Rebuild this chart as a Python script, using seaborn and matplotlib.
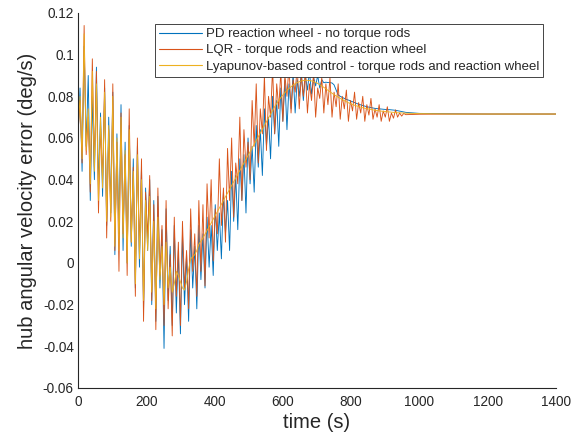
import numpy as np
import pandas as pd
import matplotlib
matplotlib.use("Agg")
import matplotlib.pyplot as plt
import seaborn as sns

# ---------------- data ----------------
# sample grid (s): every 6 s up to 960 s, then the settled tail
time_main = np.arange(0, 966, 6)
time_tail = [1000, 1100, 1200, 1300, 1400]

pd_wheel = [
    0.060, 0.084, 0.044, 0.104, 0.056, 0.090, 0.030, 0.080, 0.040, 0.094,
    0.036, 0.072, 0.032, 0.084, 0.018, 0.070, 0.024, 0.082, 0.004, 0.062,
    0.014, 0.076, 0.006, 0.058, 0.000, 0.066, 0.008, 0.050, -0.012, 0.056,
    -0.002, 0.046, -0.022, 0.036, 0.006, 0.040, -0.020, 0.030, -0.028, 0.032,
    -0.012, 0.016, -0.041, 0.026, -0.018, 0.008, -0.030, 0.018, -0.024, 0.006,
    -0.034, 0.014, -0.020, 0.004, -0.028, 0.016, -0.012, 0.008, -0.022, 0.018,
    -0.008, 0.014, -0.012, 0.022, -0.002, 0.018, -0.006, 0.028, 0.006, 0.024,
    0.002, 0.034, 0.014, 0.030, 0.006, 0.044, 0.020, 0.042, 0.016, 0.050,
    0.030, 0.052, 0.024, 0.060, 0.038, 0.056, 0.034, 0.066, 0.046, 0.064,
    0.042, 0.074, 0.056, 0.070, 0.050, 0.080, 0.062, 0.078, 0.056, 0.084,
    0.068, 0.088, 0.064, 0.086, 0.074, 0.091, 0.072, 0.088, 0.080, 0.092,
    0.078, 0.090, 0.083, 0.092, 0.081, 0.089, 0.085, 0.090, 0.084, 0.088,
    0.0865, 0.0868, 0.0866, 0.0866, 0.0864, 0.0855, 0.0830, 0.0807, 0.0800, 0.0795,
    0.0790, 0.0785, 0.0782, 0.0778, 0.0774, 0.0770, 0.0766, 0.0762, 0.0759, 0.0756,
    0.0753, 0.0750, 0.0748, 0.0746, 0.0744, 0.0742, 0.0741, 0.0740, 0.0739, 0.0738,
    0.0737, 0.0736, 0.0736, 0.0735, 0.0734, 0.0733, 0.0731, 0.0729, 0.0727, 0.0725,
    0.0723,
    0.0718, 0.0716, 0.0715, 0.0715, 0.0715,
]

lqr = [
    0.062, 0.078, 0.048, 0.114, 0.052, 0.070, 0.034, 0.098, 0.046, 0.092,
    0.024, 0.066, 0.040, 0.088, 0.012, 0.064, 0.020, 0.086, 0.006, 0.058,
    -0.004, 0.072, 0.014, 0.052, -0.006, 0.074, 0.010, 0.046, -0.016, 0.060,
    0.004, 0.050, -0.028, 0.034, 0.012, 0.042, -0.018, 0.028, -0.032, 0.036,
    -0.006, 0.018, -0.030, 0.030, -0.022, 0.004, -0.035, 0.022, -0.016, 0.010,
    -0.030, 0.020, -0.012, 0.006, -0.022, 0.026, -0.004, 0.014, -0.016, 0.030,
    -0.004, 0.028, -0.011, 0.038, 0.012, 0.040, 0.001, 0.026, 0.014, 0.050,
    0.018, 0.036, 0.010, 0.055, 0.030, 0.060, 0.022, 0.048, 0.038, 0.070,
    0.030, 0.064, 0.046, 0.058, 0.040, 0.078, 0.056, 0.086, 0.048, 0.074,
    0.062, 0.090, 0.054, 0.080, 0.070, 0.094, 0.062, 0.086, 0.074, 0.092,
    0.068, 0.090, 0.080, 0.095, 0.072, 0.088, 0.082, 0.094, 0.074, 0.090,
    0.080, 0.092, 0.072, 0.086, 0.078, 0.091, 0.070, 0.084, 0.079, 0.089,
    0.072, 0.086, 0.076, 0.089, 0.070, 0.082, 0.075, 0.086, 0.069, 0.080,
    0.074, 0.083, 0.068, 0.078, 0.073, 0.082, 0.069, 0.077, 0.072, 0.080,
    0.068, 0.076, 0.071, 0.079, 0.069, 0.074, 0.070, 0.076, 0.068, 0.073,
    0.070, 0.075, 0.068, 0.072, 0.0695, 0.0735, 0.0700, 0.0720, 0.0705, 0.0718,
    0.0712,
    0.0714, 0.0715, 0.0715, 0.0715, 0.0715,
]

lyapunov = [
    0.062, 0.080, 0.050, 0.110, 0.054, 0.074, 0.038, 0.092, 0.044, 0.086,
    0.030, 0.070, 0.036, 0.082, 0.020, 0.066, 0.022, 0.080, 0.008, 0.060,
    0.006, 0.070, 0.012, 0.054, 0.000, 0.064, 0.010, 0.044, -0.010, 0.052,
    0.002, 0.040, -0.018, 0.030, 0.006, 0.032, -0.014, 0.020, -0.022, 0.022,
    -0.008, 0.008, -0.020, 0.010, -0.012, -0.002, -0.014, -0.010, -0.004, -0.006,
    -0.009, -0.012, -0.013, -0.009, -0.003, 0.002, 0.003, 0.004, 0.006, 0.009,
    0.0105, 0.0120, 0.0138, 0.0156, 0.0174, 0.0192, 0.0210, 0.0228, 0.0246, 0.0264,
    0.0282, 0.0300, 0.0318, 0.0336, 0.0354, 0.0372, 0.0390, 0.0408, 0.0426, 0.0444,
    0.0462, 0.0480, 0.0498, 0.0516, 0.0534, 0.0552, 0.0570, 0.0588, 0.0606, 0.0624,
    0.0642, 0.0660, 0.0678, 0.0696, 0.0714, 0.0732, 0.0750, 0.0766, 0.0780, 0.0794,
    0.0806, 0.0818, 0.0828, 0.0838, 0.0846, 0.0854, 0.0860, 0.0866, 0.0870, 0.0874,
    0.0876, 0.0877, 0.0877, 0.0876, 0.0874, 0.0871, 0.0867, 0.0862, 0.0856, 0.0850,
    0.0843, 0.0836, 0.0829, 0.0822, 0.0815, 0.0808, 0.0802, 0.0796, 0.0790, 0.0784,
    0.0779, 0.0774, 0.0769, 0.0765, 0.0761, 0.0757, 0.0754, 0.0751, 0.0748, 0.0745,
    0.0743, 0.0741, 0.0739, 0.0737, 0.0735, 0.0733, 0.0732, 0.0730, 0.0729, 0.0728,
    0.0727, 0.0726, 0.0725, 0.0724, 0.0723, 0.0722, 0.0721, 0.0721, 0.0720, 0.0720,
    0.0719,
    0.0717, 0.0715, 0.0715, 0.0715, 0.0715,
]

series_labels = [
    "PD reaction wheel - no torque rods",
    "LQR - torque rods and reaction wheel",
    "Lyapunov-based control - torque rods and reaction wheel",
]
series_colors = ["#0072BD", "#D95319", "#EDB120"]

x_ticks = [0, 200, 400, 600, 800, 1000, 1200, 1400]
y_ticks = [-0.06, -0.04, -0.02, 0, 0.02, 0.04, 0.06, 0.08, 0.1, 0.12]
y_tick_labels = ["-0.06", "-0.04", "-0.02", "0", "0.02", "0.04", "0.06", "0.08", "0.1", "0.12"]

# ---------------- plot ----------------
sns.set_theme(style="white")
plt.rcParams["font.family"] = ["Liberation Sans", "DejaVu Sans"]

time_all = np.concatenate([time_main, time_tail])
frames = []
for lab, vals in zip(series_labels, [pd_wheel, lqr, lyapunov]):
    frames.append(pd.DataFrame({"time": time_all, "value": vals, "series": lab}))
df = pd.concat(frames, ignore_index=True)

fig = plt.figure(figsize=(5.76, 4.42), dpi=100)
ax = fig.add_axes([0.1354, 0.1222, 0.8299, 0.8484])

sns.lineplot(data=df, x="time", y="value", hue="series", hue_order=series_labels,
             palette=series_colors, linewidth=0.65, ax=ax, sort=False,
             estimator=None)

ax.set_xlim(0, 1400)
ax.set_ylim(-0.06, 0.12)
ax.set_xticks(x_ticks)
ax.set_xticklabels([str(v) for v in x_ticks])
ax.set_yticks(y_ticks)
ax.set_yticklabels(y_tick_labels)

dark = "#262626"
for side in ["top", "right"]:
    ax.spines[side].set_visible(False)
for side in ["left", "bottom"]:
    ax.spines[side].set_color(dark)
    ax.spines[side].set_linewidth(0.8)
ax.tick_params(direction="in", length=4, width=0.8, colors=dark,
               labelsize=9.8, labelcolor=dark)
ax.tick_params(axis="x", pad=5)
ax.tick_params(axis="y", pad=3)

ax.set_xlabel("time (s)", fontsize=14.5, color=dark, labelpad=3)
ax.set_ylabel("hub angular velocity error (deg/s)", fontsize=14.5, color=dark, labelpad=4)

leg = ax.legend(loc="upper right", bbox_to_anchor=(0.973, 0.9707), fontsize=9.5,
                frameon=True, fancybox=False, edgecolor=dark, framealpha=1,
                borderpad=0.3, labelspacing=0.3, handlelength=3.3,
                handletextpad=0.25, borderaxespad=0)
leg.get_frame().set_linewidth(0.6)
for line in leg.get_lines():
    line.set_linewidth(0.8)

fig.savefig("out.png", dpi=100)
